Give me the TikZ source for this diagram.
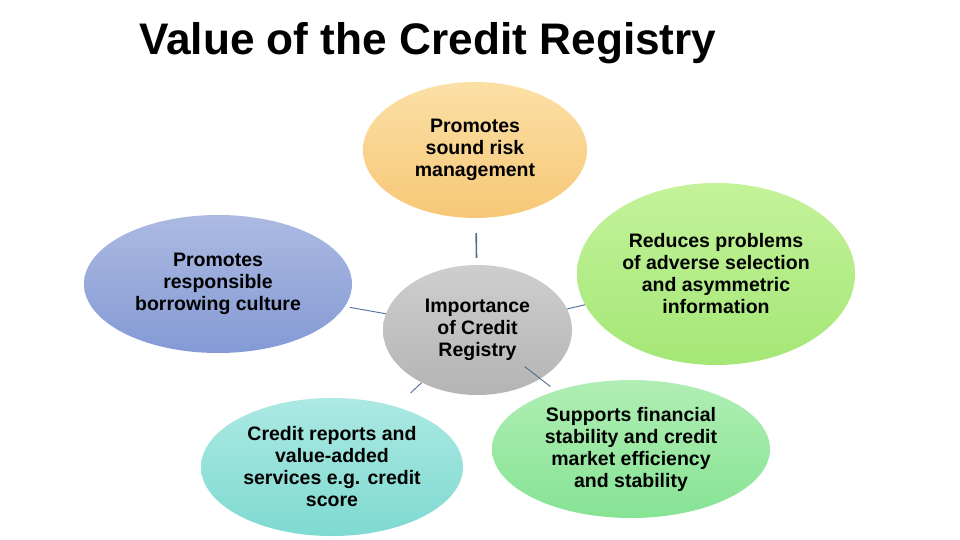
\documentclass[tikz,border=0pt]{standalone}
\usepackage{fontspec}
\setmainfont{Liberation Sans}
\usetikzlibrary{shapes.geometric}

\definecolor{linkblue}{RGB}{79,109,145}
\definecolor{riskA}{RGB}{251,224,166}
\definecolor{riskB}{RGB}{247,199,118}
\definecolor{borrowA}{RGB}{172,186,226}
\definecolor{borrowB}{RGB}{132,154,213}
\definecolor{hubA}{RGB}{206,206,206}
\definecolor{hubB}{RGB}{180,180,180}
\definecolor{adverseA}{RGB}{196,242,154}
\definecolor{adverseB}{RGB}{164,231,118}
\definecolor{reportsA}{RGB}{172,233,227}
\definecolor{reportsB}{RGB}{126,218,209}
\definecolor{stableA}{RGB}{176,238,180}
\definecolor{stableB}{RGB}{134,227,148}

\begin{document}
\begin{tikzpicture}[x=1pt,y=-1pt,
  bubble/.style={ellipse,inner sep=0pt,align=center,font=\fontsize{19.5}{22}\selectfont\bfseries},
  link/.style={draw=linkblue,line width=0.9pt}]
  \useasboundingbox (0,0) rectangle (960,540);
  \node[anchor=base west,inner sep=0pt,font=\fontsize{44.2}{52}\selectfont\bfseries] (title) at (139,55) {Value of the Credit Registry};
  % the six ellipses
  \node[bubble,minimum width=224pt,minimum height=136pt,top color=riskA,bottom color=riskB] (risk) at (475,150) {Promotes\\sound risk\\management};
  \node[bubble,minimum width=268pt,minimum height=138pt,top color=borrowA,bottom color=borrowB] (borrow) at (218,284) {Promotes\\responsible\\borrowing culture};
  \node[bubble,minimum width=189pt,minimum height=130pt,top color=hubA,bottom color=hubB] (hub) at (477.5,330) {Importance\\of Credit\\Registry};
  \node[bubble,minimum width=278pt,minimum height=182pt,top color=adverseA,bottom color=adverseB] (adverse) at (716,274) {Reduces problems\\of adverse selection\\and asymmetric\\information};
  \node[bubble,minimum width=262pt,minimum height=138pt,top color=reportsA,bottom color=reportsB] (reports) at (332,467) {Credit reports and\\value-added\\services e.g. credit\\score};
  \node[bubble,minimum width=278pt,minimum height=138pt,top color=stableA,bottom color=stableB] (stable) at (631,449) {Supports financial\\stability and credit\\market efficiency\\and stability};
  % connectors
  \draw[link,line width=1.6pt,shorten <=7pt,shorten >=15pt] (hub) -- (risk);
  \draw[link,shorten >=5pt] (hub) -- (borrow);
  \draw[link] (hub) -- (adverse);
  \draw[link,shorten >=20pt] (hub) -- (reports);
  \draw[link,shorten <=-20pt,shorten >=7pt] (hub) -- (stable);
\end{tikzpicture}
\end{document}
